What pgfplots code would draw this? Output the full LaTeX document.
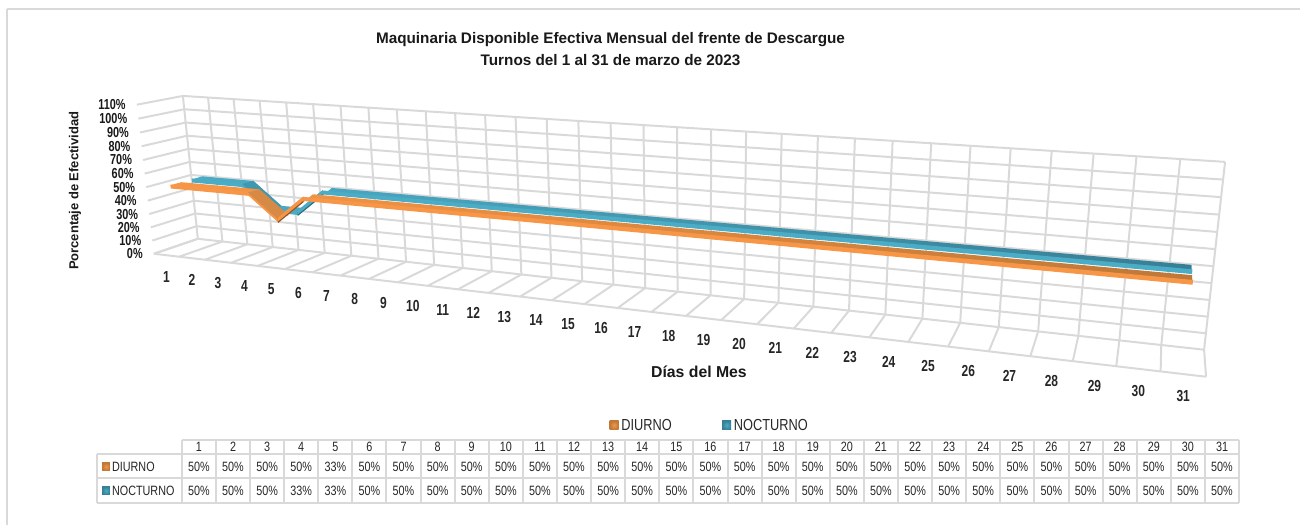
\documentclass[border=0pt]{standalone}
\usepackage{fontspec}
\usepackage{pgfplots}
\usepackage{pgfplotstable}
\pgfplotsset{compat=1.18}
\setmainfont{Liberation Sans}
\newfontfamily\nar[FakeStretch=0.8]{Liberation Sans}
\newfontfamily\narb[FakeStretch=0.75]{Liberation Sans Bold}
\newfontfamily\ancha{Liberation Sans Bold}

\definecolor{rejilla}{HTML}{D9D9D9}
\definecolor{naranja}{HTML}{F79646}
\definecolor{naranjaosc}{HTML}{BE7838}
\definecolor{naranjamed}{HTML}{D68A45}
\definecolor{naranjacafe}{HTML}{8A5526}
\definecolor{azul}{HTML}{4BACC6}
\definecolor{azulosc}{HTML}{377F96}
\definecolor{azulmed}{HTML}{3F98B0}
\definecolor{azulcafe}{HTML}{2B6A7E}

% proyeccion del grafico 3D: u dia (0..1), v altura (0..1), w fondo a frente (0..1)
\newcommand{\Den}[3]{(1-0.24971*(#1)-0.02949*(#2)-0.0432*(#3))}
\newcommand{\PX}[3]{((706.1*(#1)-20.4*(#2)+198-50.65*(#3))/\Den{#1}{#2}{#3})}
\newcommand{\PY}[3]{(525-(23.6*(#1)-145.83*(#2)+239+4*(#3))/\Den{#1}{#2}{#3})}
\newcommand{\U}{((\thisrow{d}-0.5)/31)}
\newcommand{\V}{(\thisrow{v}/110)}

% datos de la tabla
\pgfplotstableread{
d diurno nocturno
1 50 50
2 50 50
3 50 50
4 50 33
5 33 33
6 50 50
7 50 50
8 50 50
9 50 50
10 50 50
11 50 50
12 50 50
13 50 50
14 50 50
15 50 50
16 50 50
17 50 50
18 50 50
19 50 50
20 50 50
21 50 50
22 50 50
23 50 50
24 50 50
25 50 50
26 50 50
27 50 50
28 50 50
29 50 50
30 50 50
31 50 50
}\datos

% cintas: ida por el borde delantero (s=0), vuelta por el trasero (s=1)
\pgfplotstableread[row sep=\\]{
d v s\\
1 50 0\\ 2 50 0\\ 3 50 0\\ 4 50 0\\ 5 33 0\\ 6 50 0\\ 7 50 0\\ 8 50 0\\
9 50 0\\ 10 50 0\\ 11 50 0\\ 12 50 0\\ 13 50 0\\ 14 50 0\\ 15 50 0\\ 16 50 0\\
17 50 0\\ 18 50 0\\ 19 50 0\\ 20 50 0\\ 21 50 0\\ 22 50 0\\ 23 50 0\\ 24 50 0\\
25 50 0\\ 26 50 0\\ 27 50 0\\ 28 50 0\\ 29 50 0\\ 30 50 0\\ 31 50 0\\
31 50 1\\ 30 50 1\\ 29 50 1\\ 28 50 1\\ 27 50 1\\ 26 50 1\\ 25 50 1\\ 24 50 1\\
23 50 1\\ 22 50 1\\ 21 50 1\\ 20 50 1\\ 19 50 1\\ 18 50 1\\ 17 50 1\\ 16 50 1\\
15 50 1\\ 14 50 1\\ 13 50 1\\ 12 50 1\\ 11 50 1\\ 10 50 1\\ 9 50 1\\ 8 50 1\\
7 50 1\\ 6 50 1\\ 5 33 1\\ 4 50 1\\ 3 50 1\\ 2 50 1\\ 1 50 1\\
}\cintaD
\pgfplotstableread[row sep=\\]{
d v s\\
1 50 0\\ 2 50 0\\ 3 50 0\\ 4 33 0\\ 5 33 0\\ 6 50 0\\ 7 50 0\\ 8 50 0\\
9 50 0\\ 10 50 0\\ 11 50 0\\ 12 50 0\\ 13 50 0\\ 14 50 0\\ 15 50 0\\ 16 50 0\\
17 50 0\\ 18 50 0\\ 19 50 0\\ 20 50 0\\ 21 50 0\\ 22 50 0\\ 23 50 0\\ 24 50 0\\
25 50 0\\ 26 50 0\\ 27 50 0\\ 28 50 0\\ 29 50 0\\ 30 50 0\\ 31 50 0\\
31 50 1\\ 30 50 1\\ 29 50 1\\ 28 50 1\\ 27 50 1\\ 26 50 1\\ 25 50 1\\ 24 50 1\\
23 50 1\\ 22 50 1\\ 21 50 1\\ 20 50 1\\ 19 50 1\\ 18 50 1\\ 17 50 1\\ 16 50 1\\
15 50 1\\ 14 50 1\\ 13 50 1\\ 12 50 1\\ 11 50 1\\ 10 50 1\\ 9 50 1\\ 8 50 1\\
7 50 1\\ 6 50 1\\ 5 33 1\\ 4 33 1\\ 3 50 1\\ 2 50 1\\ 1 50 1\\
}\cintaN

% tramos del valle con otra cara
\pgfplotstableread[row sep=\\]{d v s\\ 4 50 0\\ 5 33 0\\ 5 33 1\\ 4 50 1\\}\bajaD
\pgfplotstableread[row sep=\\]{d v s\\ 5 33 0\\ 6 50 0\\ 6 50 1\\ 5 33 1\\}\subeD
\pgfplotstableread[row sep=\\]{d v s\\ 3 50 0\\ 4 33 0\\ 4 33 1\\ 3 50 1\\}\bajaN
\pgfplotstableread[row sep=\\]{d v s\\ 5 33 0\\ 6 50 0\\ 6 50 1\\ 5 33 1\\}\subeN

\pgfplotstableread[row sep=\\]{t z\\ 0 0\\ 1 1\\}\seg
\pgfplotstableread{
v et
0 0
10 10
20 20
30 30
40 40
50 50
60 60
70 70
80 80
90 90
100 100
110 110
}\ejeY

\newcommand{\cara}[3]{% tabla, w delantero, relleno
  \addplot[draw=none,#3,forget plot] table[
    x expr={\PX{\U}{\V}{#2-0.24*\thisrow{s}}},
    y expr={\PY{\U}{\V}{#2-0.24*\thisrow{s}}}] {#1};}
\newcommand{\frente}[4]{% tabla, w delantero, relleno, grosor
  \addplot[draw=none,#3,forget plot] table[
    x expr={\PX{\U}{\V-#4*\thisrow{s}}{#2}},
    y expr={\PY{\U}{\V-#4*\thisrow{s}}{#2}}] {#1};}

\begin{document}
\begin{tikzpicture}
\begin{axis}[
    width=1301pt,
    height=525pt,
    scale only axis,
    xmin=0, xmax=1301,
    ymin=0, ymax=525,
    ticks=none,
    axis line style={draw=none},
    clip=false,
    rejilla/.style={draw=rejilla,line width=2pt,forget plot},
    texto/.style={only marks,mark=none,forget plot,point meta=explicit symbolic,
      every node near coord/.append style={anchor=center,inner sep=0pt,text=black!85}},
]
% marco
\addplot[rejilla] table[x expr=7+1294*\thisrow{t},y expr=516] {\seg};
\addplot[rejilla] table[x expr=7,y expr=516*\thisrow{t}] {\seg};

% paredes y piso
\pgfplotsinvokeforeach{0,...,31}{
  \addplot[rejilla] table[x expr={\PX{#1/31}{\thisrow{t}}{0}},y expr={\PY{#1/31}{\thisrow{t}}{0}}] {\seg};
  \addplot[rejilla] table[x expr={\PX{#1/31}{0}{\thisrow{t}}},y expr={\PY{#1/31}{0}{\thisrow{t}}}] {\seg};
}
\pgfplotsinvokeforeach{0,...,11}{
  \addplot[rejilla] table[x expr={\PX{\thisrow{t}}{#1/11}{0}},y expr={\PY{\thisrow{t}}{#1/11}{0}}] {\seg};
  \addplot[rejilla] table[x expr={\PX{0}{#1/11}{\thisrow{t}}},y expr={\PY{0}{#1/11}{\thisrow{t}}}] {\seg};
}
\addplot[rejilla] table[x expr={\PX{\thisrow{t}}{0}{1}},y expr={\PY{\thisrow{t}}{0}{1}}] {\seg};

% NOCTURNO
\cara{\cintaN}{0.27}{left color=azul,middle color=azulosc,right color=azulosc}
\frente{\cintaN}{0.27}{fill=azul,draw=azul,line width=1.3pt}{0.018}
\cara{\bajaN}{0.27}{fill=azulmed,draw=azulmed,line width=1pt}
\frente{\subeN}{0.27}{fill=azulcafe}{0.03}
\frente{\subeN}{0.27}{fill=azul,draw=azul,line width=1pt}{0.016}
% DIURNO
\cara{\cintaD}{0.75}{left color=naranja,middle color=naranjaosc,right color=naranjaosc}
\frente{\cintaD}{0.75}{fill=naranja,draw=naranja,line width=1.3pt}{0.018}
\cara{\bajaD}{0.75}{fill=naranjamed,draw=naranjamed,line width=1pt}
\frente{\subeD}{0.75}{fill=naranjacafe}{0.03}
\frente{\subeD}{0.75}{fill=naranja,draw=naranja,line width=1pt}{0.016}

% etiquetas del eje de porcentaje
\addplot[only marks,mark=none,forget plot,point meta=explicit symbolic,
  nodes near coords={\pgfplotspointmeta\%},
  every node near coord/.append style={anchor=east,inner sep=0pt,text=black!90,
    font=\narb\fontsize{14.5}{16}\selectfont}]
  table[x expr={\PX{0}{\V}{1}-11},y expr={\PY{0}{\V}{1}},meta=et] {\ejeY};
% etiquetas de dias
\addplot[texto,nodes near coords={\pgfplotspointmeta},
  every node near coord/.append style={font=\narb\fontsize{16}{18}\selectfont}]
  table[x expr={\PX{(\thisrow{d}-0.5)/31}{0}{1}},y expr={\PY{(\thisrow{d}-0.5)/31}{0}{1}-22},meta=d] {\datos};

% tabla de datos
\addplot[rejilla] table[x expr=182+1058*\thisrow{t},y expr=85] {\seg};
\addplot[rejilla] table[x expr=96.7+1143.3*\thisrow{t},y expr=70.3] {\seg};
\addplot[rejilla] table[x expr=96.7+1143.3*\thisrow{t},y expr=46.3] {\seg};
\addplot[rejilla] table[x expr=96.7+1143.3*\thisrow{t},y expr=21.7] {\seg};
\addplot[rejilla] table[x expr=96.7,y expr=21.7+48.6*\thisrow{t}] {\seg};
\pgfplotsinvokeforeach{0,...,31}{
  \addplot[rejilla] table[x expr=182+34.129*#1,y expr=21.7+63.3*\thisrow{t}] {\seg};
}
\addplot[texto,nodes near coords={\pgfplotspointmeta},
  every node near coord/.append style={font=\nar\fontsize{13.5}{15}\selectfont}]
  table[x expr=199.06+34.129*(\thisrow{d}-1),y expr=77.5,meta=d] {\datos};
\addplot[texto,nodes near coords={\pgfplotspointmeta\%},
  every node near coord/.append style={font=\nar\fontsize{13.5}{15}\selectfont}]
  table[x expr=199.06+34.129*(\thisrow{d}-1),y expr=58,meta=diurno] {\datos};
\addplot[texto,nodes near coords={\pgfplotspointmeta\%},
  every node near coord/.append style={font=\nar\fontsize{13.5}{15}\selectfont}]
  table[x expr=199.06+34.129*(\thisrow{d}-1),y expr=34,meta=nocturno] {\datos};

% claves de color
\path[inner color=naranja,outer color=naranjaosc] (axis cs:102.3,54) rectangle (axis cs:110,62);
\path[inner color=azul,outer color=azulosc] (axis cs:102.3,30) rectangle (axis cs:110,38);
\path[inner color=naranja,outer color=naranjaosc] (axis cs:610,95) rectangle (axis cs:619,104);
\path[inner color=azul,outer color=azulosc] (axis cs:722.7,95) rectangle (axis cs:731.7,104);

% textos
\node[anchor=west,inner sep=0pt,font=\nar\fontsize{13.5}{15}\selectfont,text=black!85] at (axis cs:112,58) {DIURNO};
\node[anchor=west,inner sep=0pt,font=\nar\fontsize{13.5}{15}\selectfont,text=black!85] at (axis cs:112,34) {NOCTURNO};
\node[anchor=west,inner sep=0pt,font=\nar\fontsize{16}{18}\selectfont,text=black!85] at (axis cs:621.7,100) {DIURNO};
\node[anchor=west,inner sep=0pt,font=\nar\fontsize{16}{18}\selectfont,text=black!85] at (axis cs:734.3,100) {NOCTURNO};
\node[anchor=base,inner sep=0pt,font=\ancha\fontsize{15.3}{17}\selectfont,text=black!90] at (axis cs:611,481) {Maquinaria Disponible Efectiva Mensual del frente de Descargue};
\node[anchor=base,inner sep=0pt,font=\ancha\fontsize{15.3}{17}\selectfont,text=black!90] at (axis cs:611,459.3) {Turnos del 1 al 31 de marzo de 2023};
\node[inner sep=0pt,font=\ancha\fontsize{15.8}{18}\selectfont,text=black!90] at (axis cs:699.5,153) {Días del Mes};
\node[rotate=90,inner sep=0pt,font=\ancha\fontsize{13}{15}\selectfont,text=black!90] at (axis cs:75,334) {Porcentaje de Efectividad};
\end{axis}
\end{tikzpicture}
\end{document}
